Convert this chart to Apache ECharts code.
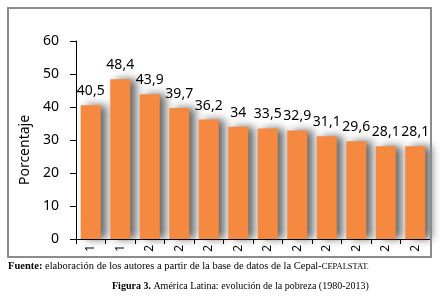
<!DOCTYPE html>
<html>
<head>
<meta charset="utf-8">
<script src="https://cdn.jsdelivr.net/npm/echarts@6/dist/echarts.min.js"></script>
<style>
html,body{margin:0;padding:0;background:#fff;}
#c{width:440px;height:306px;}
</style>
</head>
<body>
<div id="c"></div>
<script>
const years = ['1980','1990','2002','2005','2006','2007','2008','2009','2010','2011','2012','2013'];
const poverty = [40.5, 48.4, 43.9, 39.7, 36.2, 34, 33.5, 32.9, 31.1, 29.6, 28.1, 28.1];
const yTicks = {min: 0, max: 60, interval: 10};
const yName = 'Porcentaje';
const sourceNote = 'elaboración de los autores a partir de la base de datos de la Cepal-';
const caption = 'América Latina: evolución de la pobreza (1980-2013)';

const chart = echarts.init(document.getElementById('c'), null, {renderer: 'canvas'});
chart.setOption({
  animation: false,
  backgroundColor: '#fff',
  grid: {left: 76, right: 10, top: 41, bottom: 67},
  xAxis: {
    type: 'category',
    data: years,
    boundaryGap: true,
    axisLine: {show: true, lineStyle: {color: '#000', width: 1}},
    axisTick: {show: true, length: 5, lineStyle: {color: '#000'}},
    axisLabel: {
      rotate: 90, margin: 6, color: '#000', fontFamily: 'Noto Sans', fontSize: 12,
      formatter: v => v.charAt(0)
    },
    splitLine: {show: false}
  },
  yAxis: {
    type: 'value',
    min: yTicks.min, max: yTicks.max, interval: yTicks.interval,
    name: yName,
    nameLocation: 'middle',
    nameGap: 40,
    nameTextStyle: {color: '#000', fontFamily: 'Noto Sans', fontSize: 14, padding: [0, 20, 0, 0]},
    axisLine: {show: true, lineStyle: {color: '#000', width: 1}},
    axisTick: {show: true, inside: false, length: 6, lineStyle: {color: '#000'}},
    axisLabel: {color: '#000', fontFamily: 'Noto Sans', fontSize: 14, margin: 17},
    splitLine: {show: false}
  },
  series: [{
    type: 'bar',
    data: poverty,
    barWidth: '68%',
    itemStyle: {
      color: '#F5893F',
      shadowColor: 'rgba(0,0,0,0.6)',
      shadowBlur: 8,
      shadowOffsetX: 6,
      shadowOffsetY: 0
    },
    label: {
      show: true, position: 'top', distance: 7,
      color: '#000', fontFamily: 'Noto Sans', fontSize: 14,
      formatter: p => String(p.value).replace('.', ',')
    }
  }],
  graphic: [
    {type: 'rect', shape: {x: 8, y: 8, width: 423, height: 249}, style: {fill: 'none', stroke: '#8c8c8c', lineWidth: 2}, z: 100},
    {type: 'text', left: 8, top: 261, style: {
      text: '{b|Fuente: }{n|' + sourceNote + '}{s|CEPALSTAT.}',
      rich: {
        b: {fontFamily: 'Liberation Serif', fontSize: 10.5, fontWeight: 'bold', fill: '#000'},
        n: {fontFamily: 'Liberation Serif', fontSize: 10.5, fill: '#000'},
        s: {fontFamily: 'Liberation Serif', fontSize: 8.5, fill: '#000'}
      }
    }},
    {type: 'text', left: 112, top: 281, style: {
      text: '{b|Figura 3. }{n|' + caption + '}',
      rich: {
        b: {fontFamily: 'Liberation Serif', fontSize: 10, fontWeight: 'bold', fill: '#000'},
        n: {fontFamily: 'Liberation Serif', fontSize: 10, fill: '#000'}
      }
    }}
  ]
});
</script>
</body>
</html>
